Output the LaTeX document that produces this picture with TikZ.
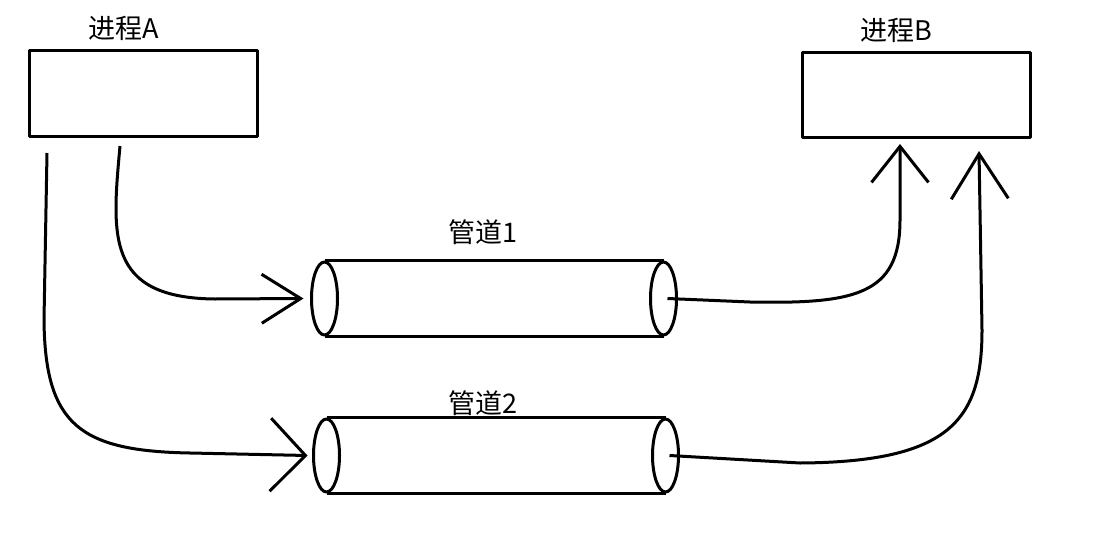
\documentclass[tikz,border=0pt]{standalone}
\usepackage{fontspec}
\newfontfamily\cjk{Noto Sans CJK SC}
\usetikzlibrary{arrows.meta}
\begin{document}
\begin{tikzpicture}[x=1pt,y=-1pt,
  every path/.style={line width=3pt, line join=round},
  procbox/.style={draw, line width=3pt, minimum width=228pt, minimum height=85pt, inner sep=0pt},
  pipebody/.style={inner sep=0pt, minimum width=336pt, minimum height=73pt},
  lbl/.style={font=\cjk\fontsize{27}{30}\selectfont, inner sep=0pt, anchor=base},
  conn/.style={line width=3pt},
  barb/.style args={#1/#2}{-{Straight Barb[length=#1pt, width=#2pt, line width=3pt]}}
]
\useasboundingbox (0,0) rectangle (1105,551);
\fill[white] (0,0) rectangle (1105,551);

% processes
\node[procbox] (A) at (143,93.5) {};
\node[procbox] (B) at (916,95) {};
\node[lbl] (lA) at (124,39) {进程A};
\node[lbl] (lB) at (896,41) {进程B};

% pipes
\node[pipebody] (p1) at (494,298.5) {};
\node[pipebody] (p2) at (496,455.5) {};
\node[lbl] (l1) at (483,242) {管道1};
\node[lbl] (l2) at (483,413) {管道2};

\foreach \p in {p1,p2}{
  \draw (\p.north west) -- (\p.north east);
  \draw (\p.south west) -- (\p.south east);
  \draw (\p.west) ellipse [x radius=13pt, y radius=36.5pt];
  \draw (\p.east) ellipse [x radius=13pt, y radius=36.5pt];
}

% connectors
\coordinate (a1) at (120,146);
\coordinate (a2) at (47,153);
\coordinate (b1) at (900,144);
\coordinate (b2) at (979,151);

\draw[conn, barb=39/49] (a1) .. controls (112,235) and (105,298) .. (215,299) -- ([xshift=-21pt]p1.west);
\draw[conn, barb=35/73] (a2) -- (44,320) .. controls (45,425) and (80,451) .. (190,453) -- ([xshift=-19pt]p2.west);
\draw[conn, barb=36/57] ([xshift=4pt]p1.east) -- (750,302) .. controls (855,304) and (900,295) .. (900,220) -- (b1);
\draw[conn, barb=45/57] ([xshift=4pt]p2.east) -- (800,463) .. controls (950,462) and (982,420) .. (982,330) -- (b2);
\end{tikzpicture}
\end{document}
